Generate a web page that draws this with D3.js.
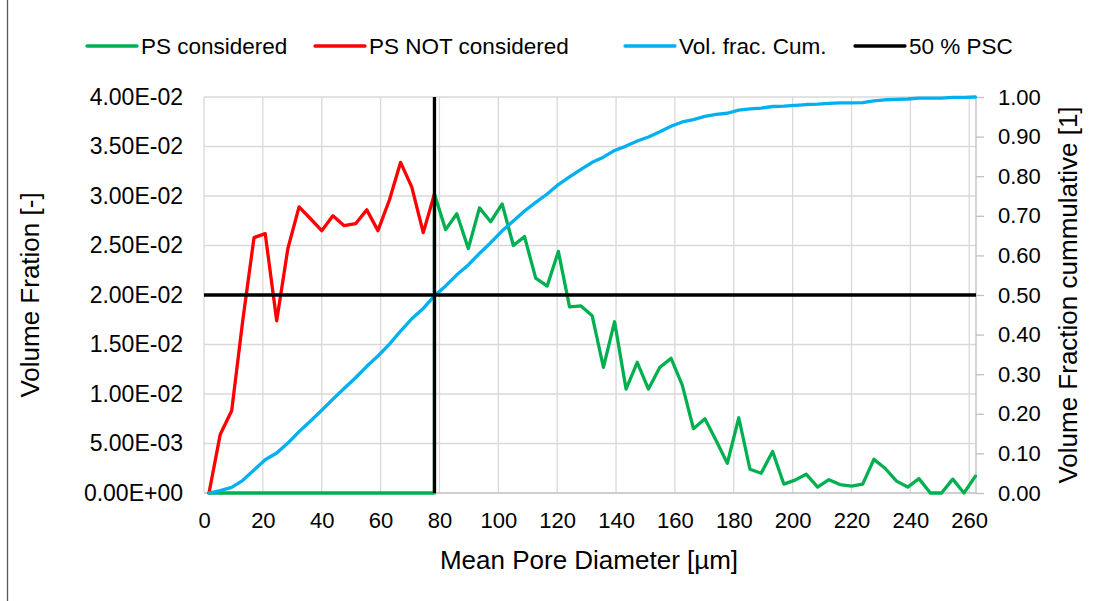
<!DOCTYPE html>
<html>
<head>
<meta charset="utf-8">
<script src="https://cdn.jsdelivr.net/npm/d3@7"></script>
<style>
  html, body { margin: 0; padding: 0; background: #fff; }
  svg { display: block; font-family: "Liberation Sans", Arial, sans-serif; }
</style>
</head>
<body>
<svg id="chart" width="1102" height="601"></svg>
<script>
// ---------- DATA ----------
const meanPoreDiameter = [
  1.7, 5.5, 9.4, 13.2, 17.0, 20.8, 24.7, 28.5, 32.3, 36.2,
  40.0, 43.8, 47.6, 51.5, 55.3, 59.1, 63.0, 66.8, 70.6, 74.5,
  78.3, 82.1, 85.9, 89.8, 93.6, 97.4, 101.3, 105.1, 108.9, 112.7,
  116.6, 120.4, 124.2, 128.1, 131.9, 135.7, 139.5, 143.4, 147.2, 151.0,
  154.9, 158.7, 162.5, 166.3, 170.2, 174.0, 177.8, 181.7, 185.5, 189.3,
  193.2, 197.0, 200.8, 204.6, 208.5, 212.3, 216.1, 220.0, 223.8, 227.6,
  231.4, 235.3, 239.1, 242.9, 246.8, 250.6, 254.4, 258.2, 262.1
];

// "PS NOT considered" (indices 0..20)
const psNotConsidered = [
  0.0000, 0.0059, 0.0083, 0.0175, 0.0258, 0.0262, 0.0174, 0.0247, 0.0289, 0.0277,
  0.0265, 0.0280, 0.0270, 0.0272, 0.0286, 0.0265, 0.0296, 0.0334, 0.0309, 0.0263,
  0.0302
];

// "PS considered" (indices 20..68); zero below the cut
const psConsidered = [
  0.0302, 0.0266, 0.0282, 0.0247, 0.0288, 0.0274, 0.0292, 0.0250, 0.0259, 0.0217,
  0.0209, 0.0244, 0.0188, 0.0189, 0.0179, 0.0127, 0.0173, 0.0105, 0.0132, 0.0105,
  0.0127, 0.0136, 0.0109, 0.0065, 0.0075, 0.0053, 0.0030, 0.0076, 0.0024, 0.0020,
  0.0042, 0.0009, 0.0013, 0.0019, 0.0006, 0.00135, 0.00085, 0.0007, 0.0009, 0.0034,
  0.0025, 0.0012, 0.0006, 0.00145, 0.0000, 0.0000, 0.0014, 0.0000, 0.0017
];
const cutIndex = 20;

// "Vol. frac. Cum." (right axis)
const volFracCum = [
  0.000, 0.006, 0.014, 0.032, 0.058, 0.084, 0.101, 0.126, 0.155, 0.182,
  0.209, 0.237, 0.264, 0.291, 0.320, 0.346, 0.376, 0.409, 0.440, 0.466,
  0.498, 0.523, 0.551, 0.576, 0.605, 0.632, 0.662, 0.687, 0.712, 0.734,
  0.755, 0.779, 0.798, 0.817, 0.835, 0.848, 0.865, 0.876, 0.889, 0.899,
  0.912, 0.926, 0.937, 0.943, 0.951, 0.956, 0.959, 0.967, 0.970, 0.972,
  0.976, 0.977, 0.979, 0.981, 0.982, 0.984, 0.985, 0.985, 0.986, 0.990,
  0.993, 0.994, 0.995, 0.997, 0.997, 0.997, 0.999, 0.999, 1.000
];

// 50 % PSC cross lines
const psc50Diameter = 78.3;
const psc50Value = 0.02;

// ticks
const xTicks = [0, 20, 40, 60, 80, 100, 120, 140, 160, 180, 200, 220, 240, 260];
const yLeftTicks = [0, 0.005, 0.01, 0.015, 0.02, 0.025, 0.03, 0.035, 0.04];
const yLeftLabels = ["0.00E+00", "5.00E-03", "1.00E-02", "1.50E-02", "2.00E-02",
                     "2.50E-02", "3.00E-02", "3.50E-02", "4.00E-02"];
const yRightTicks = [0, 0.1, 0.2, 0.3, 0.4, 0.5, 0.6, 0.7, 0.8, 0.9, 1.0];
const yRightLabels = ["0.00", "0.10", "0.20", "0.30", "0.40", "0.50",
                      "0.60", "0.70", "0.80", "0.90", "1.00"];

const seriesNames = ["PS considered", "PS NOT considered", "Vol. frac. Cum.", "50 % PSC"];
const seriesColors = ["#00B050", "#FF0000", "#00B0F0", "#000000"];

// ---------- LAYOUT ----------
const plot = { left: 204, right: 976, top: 97, bottom: 493 };
const svg = d3.select("#chart");
const FF = "Liberation Sans, Arial, sans-serif";

const x = d3.scaleLinear().domain([0, 262.3]).range([plot.left, plot.right]);
const yL = d3.scaleLinear().domain([0, 0.04]).range([plot.bottom, plot.top]);
const yR = d3.scaleLinear().domain([0, 1]).range([plot.bottom, plot.top]);

// outer chart border (left edge)
svg.append("line").attr("x1", 7.5).attr("x2", 7.5).attr("y1", 0).attr("y2", 601)
  .attr("stroke", "#595959").attr("stroke-width", 1.3);

// gridlines
const grid = svg.append("g");
grid.selectAll("line.v").data(xTicks).join("line")
  .attr("x1", d => x(d)).attr("x2", d => x(d))
  .attr("y1", plot.top).attr("y2", plot.bottom)
  .attr("stroke", "#D9D9D9").attr("stroke-width", 1.3);
grid.selectAll("line.h").data(yLeftTicks.slice(1)).join("line")
  .attr("x1", plot.left).attr("x2", plot.right)
  .attr("y1", d => yL(d)).attr("y2", d => yL(d))
  .attr("stroke", "#D9D9D9").attr("stroke-width", 1.3);

// bottom axis
const xAxis = svg.append("g").attr("transform", `translate(0,${plot.bottom})`)
  .call(d3.axisBottom(x).tickValues(xTicks).tickSize(0).tickPadding(19).tickFormat(d3.format("d")));
xAxis.select(".domain").attr("stroke", "#BFBFBF").attr("stroke-width", 1.3)
  .attr("d", `M${plot.left},0H${plot.right}`);
xAxis.selectAll("text").attr("font-size", 22).attr("fill", "#000").attr("font-family", FF);

// left axis
const yAxisL = svg.append("g").attr("transform", `translate(${plot.left},0)`)
  .call(d3.axisLeft(yL).tickValues(yLeftTicks).tickSize(0).tickPadding(21)
    .tickFormat((d, i) => yLeftLabels[i]));
yAxisL.select(".domain").remove();
yAxisL.selectAll("text").attr("font-size", 23).attr("fill", "#000").attr("font-family", FF);

// right axis
const yAxisR = svg.append("g").attr("transform", `translate(${plot.right},0)`)
  .call(d3.axisRight(yR).tickValues(yRightTicks).tickSize(8).tickPadding(14)
    .tickFormat((d, i) => yRightLabels[i]));
yAxisR.select(".domain").attr("stroke", "#BFBFBF").attr("stroke-width", 1.3)
  .attr("d", `M0,${plot.bottom}V${plot.top}`);
yAxisR.selectAll(".tick line").attr("stroke", "#BFBFBF").attr("stroke-width", 1.3);
yAxisR.selectAll("text").attr("font-size", 22).attr("fill", "#000").attr("font-family", FF);

// ---------- SERIES ----------
const lineL = d3.line().x(d => x(d[0])).y(d => yL(d[1]));
const lineR = d3.line().x(d => x(d[0])).y(d => yR(d[1]));

const greenData = meanPoreDiameter.slice(0, cutIndex + 1).map(d => [d, 0])
  .concat(psConsidered.map((v, i) => [meanPoreDiameter[cutIndex + i], v]));
const redData = psNotConsidered.map((v, i) => [meanPoreDiameter[i], v]);
const blueData = volFracCum.map((v, i) => [meanPoreDiameter[i], v]);

const series = svg.append("g").attr("fill", "none")
  .attr("stroke-width", 3.3).attr("stroke-linejoin", "round").attr("stroke-linecap", "round");
series.append("path").attr("d", lineL(greenData)).attr("stroke", seriesColors[0]);
series.append("path").attr("d", lineL(redData)).attr("stroke", seriesColors[1]);
series.append("path").attr("d", lineR(blueData)).attr("stroke", seriesColors[2]);

// 50 % PSC cross
series.append("path")
  .attr("d", lineL([[0, psc50Value], [262.3, psc50Value]]))
  .attr("stroke", seriesColors[3]).attr("stroke-linecap", "butt");
series.append("path")
  .attr("d", lineL([[psc50Diameter, 0], [psc50Diameter, 0.04]]))
  .attr("stroke", seriesColors[3]).attr("stroke-linecap", "butt");

// ---------- TITLES ----------
svg.append("text").attr("x", 589).attr("y", 569)
  .attr("text-anchor", "middle").attr("font-size", 26).text("Mean Pore Diameter [µm]");
svg.append("text").attr("transform", `translate(39,${(plot.top + plot.bottom) / 2}) rotate(-90)`)
  .attr("text-anchor", "middle").attr("font-size", 26).text("Volume Fration [-]");
svg.append("text").attr("transform", `translate(1077,${(plot.top + plot.bottom) / 2}) rotate(-90)`)
  .attr("text-anchor", "middle").attr("font-size", 26).text("Volume Fraction cummulative [1]");

// ---------- LEGEND ----------
const legendX = [87, 315, 625, 855];
const legend = svg.append("g");
seriesNames.forEach((name, i) => {
  const g = legend.append("g").attr("transform", `translate(${legendX[i]},46)`);
  g.append("line").attr("x1", 0).attr("x2", 50).attr("y1", 0).attr("y2", 0)
    .attr("stroke", seriesColors[i]).attr("stroke-width", 3.3).attr("stroke-linecap", "round");
  g.append("text").attr("x", 54).attr("y", 0).attr("dy", "0.35em")
    .attr("font-size", 22.5).text(name);
});
</script>
</body>
</html>
